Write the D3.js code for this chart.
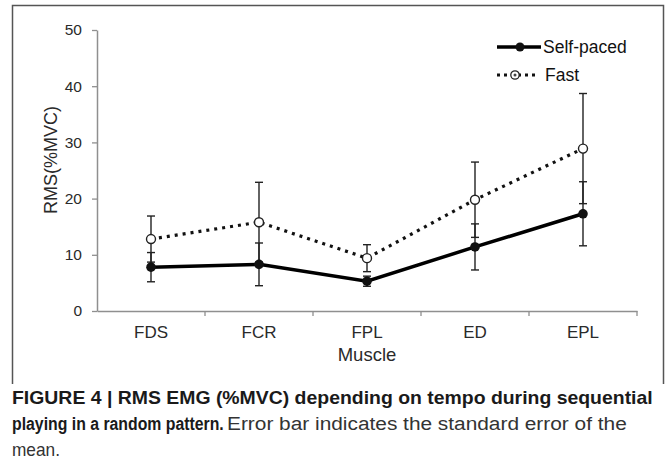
<!DOCTYPE html>
<html>
<head>
<meta charset="utf-8">
<script src="https://cdn.jsdelivr.net/npm/d3@7/dist/d3.min.js"></script>
<style>
  html, body { margin: 0; padding: 0; background: #fff; }
  svg { display: block; font-family: "Liberation Sans", Arial, sans-serif; }
</style>
</head>
<body>
<svg id="chart" width="667" height="473"></svg>
<script>
// ---- data ----
const categories = ["FDS", "FCR", "FPL", "ED", "EPL"];
const selfPaced = [7.8, 8.3, 5.3, 11.4, 17.3];
const selfPacedSE = [2.6, 3.8, 0.9, 4.1, 5.7];
const fast = [12.8, 15.8, 9.4, 19.8, 28.9];
const fastSE = [4.1, 7.1, 2.4, 6.7, 9.8];
const yTicks = [0, 10, 20, 30, 40, 50];
const seriesNames = ["Self-paced", "Fast"];

const svg = d3.select("#chart");
svg.append("rect").attr("width", 667).attr("height", 473).attr("fill", "#fff");

// frame
svg.append("path")
  .attr("d", "M12.5,384 V5.5 H663.5 V384")
  .attr("fill", "none").attr("stroke", "#555").attr("stroke-width", 1.5);

const x = d3.scaleBand().domain(categories).range([97, 637]).padding(0);
const y = d3.scaleLinear().domain([0, 50]).range([311, 30]);
const cx = c => x(c) + x.bandwidth() / 2;

const axisColor = "#8f8f8f";
const textColor = "#2a2a2a";

// y axis
const gy = svg.append("g").attr("transform", "translate(97,0)")
  .call(d3.axisLeft(y).tickValues(yTicks).tickSize(5).tickPadding(10).tickSizeOuter(0));
gy.select(".domain").attr("stroke", axisColor).attr("stroke-width", 1.5);
gy.selectAll(".tick line").attr("stroke", axisColor).attr("stroke-width", 1.3);
gy.selectAll(".tick text").attr("fill", textColor).style("font-size", "15.5px")
  .style("font-family", "'Liberation Sans', Arial, sans-serif");

// x axis
const gx = svg.append("g").attr("transform", "translate(0,311)")
  .call(d3.axisBottom(x).tickSize(0).tickPadding(15).tickSizeOuter(0));
gx.select(".domain").attr("stroke", axisColor).attr("stroke-width", 1.5);
gx.selectAll(".tick text").attr("fill", textColor).style("font-size", "17px")
  .style("font-family", "'Liberation Sans', Arial, sans-serif");
// boundary ticks
gx.selectAll(".btick").data(categories).enter().append("line")
  .attr("class", "btick")
  .attr("x1", d => x(d) + x.bandwidth()).attr("x2", d => x(d) + x.bandwidth())
  .attr("y1", 0).attr("y2", 5)
  .attr("stroke", axisColor).attr("stroke-width", 1.3);

// axis titles
svg.append("text").attr("x", 367).attr("y", 361).attr("text-anchor", "middle")
  .attr("fill", textColor).style("font-size", "18.5px").text("Muscle");
svg.append("text").attr("transform", "translate(57,160) rotate(-90)")
  .attr("text-anchor", "middle").attr("fill", textColor).style("font-size", "18px")
  .text("RMS(%MVC)");

// error bars
function errorBars(vals, ses) {
  const g = svg.append("g").attr("stroke", "#222").attr("stroke-width", 1.4);
  categories.forEach((c, i) => {
    const xc = cx(c), lo = y(vals[i] - ses[i]), hi = y(vals[i] + ses[i]);
    g.append("line").attr("x1", xc).attr("x2", xc).attr("y1", lo).attr("y2", hi);
    g.append("line").attr("x1", xc - 4).attr("x2", xc + 4).attr("y1", lo).attr("y2", lo);
    g.append("line").attr("x1", xc - 4).attr("x2", xc + 4).attr("y1", hi).attr("y2", hi);
  });
}
errorBars(fast, fastSE);
errorBars(selfPaced, selfPacedSE);

const line = d3.line().x((d, i) => cx(categories[i])).y(d => y(d));

// fast dotted line
svg.append("path").datum(fast).attr("d", line)
  .attr("fill", "none").attr("stroke", "#111").attr("stroke-width", 3.2)
  .attr("stroke-dasharray", "3,5");
// self-paced solid line
svg.append("path").datum(selfPaced).attr("d", line)
  .attr("fill", "none").attr("stroke", "#000").attr("stroke-width", 3.5);

// markers
svg.append("g").selectAll("circle").data(fast).enter().append("circle")
  .attr("cx", (d, i) => cx(categories[i])).attr("cy", d => y(d)).attr("r", 4.5)
  .attr("fill", "#fff").attr("stroke", "#222").attr("stroke-width", 1.4);
svg.append("g").selectAll("circle").data(selfPaced).enter().append("circle")
  .attr("cx", (d, i) => cx(categories[i])).attr("cy", d => y(d)).attr("r", 4.8)
  .attr("fill", "#111");

// legend
const lg = svg.append("g");
lg.append("line").attr("x1", 497).attr("x2", 541).attr("y1", 47).attr("y2", 47)
  .attr("stroke", "#000").attr("stroke-width", 3.5);
lg.append("circle").attr("cx", 520).attr("cy", 47).attr("r", 4.5).attr("fill", "#111");
lg.append("text").attr("x", 543).attr("y", 53).attr("fill", "#111")
  .style("font-size", "17.5px").text(seriesNames[0]);
lg.append("line").attr("x1", 497).attr("x2", 539).attr("y1", 75).attr("y2", 75)
  .attr("stroke", "#111").attr("stroke-width", 3).attr("stroke-dasharray", "3,4");
lg.append("circle").attr("cx", 515).attr("cy", 75).attr("r", 4.2)
  .attr("fill", "#fff").attr("stroke", "#222").attr("stroke-width", 1.3);
lg.append("circle").attr("cx", 515).attr("cy", 75).attr("r", 1.5).attr("fill", "#444");
lg.append("text").attr("x", 545).attr("y", 81).attr("fill", "#111")
  .style("font-size", "17.5px").text(seriesNames[1]);

// caption: each piece is scaled horizontally to span its measured width
const cap = svg.append("g").attr("fill", "#1a1a1a").style("font-size", "19px");
function fitText(txt, x0, y0, w, bold, fill) {
  const t = cap.append("text").attr("x", 0).attr("y", 0)
    .style("font-weight", bold ? "bold" : "normal").attr("fill", fill).text(txt);
  const nat = t.node().getComputedTextLength();
  t.attr("transform", `translate(${x0},${y0}) scale(${w / nat},1)`);
}
fitText("FIGURE 4 | RMS EMG (%MVC) depending on tempo during sequential", 12, 404, 641, true, "#1a1a1a");
fitText("playing in a random pattern.", 12, 430, 212, true, "#1a1a1a");
fitText("Error bar indicates the standard error of the", 227, 430, 400, false, "#333");
fitText("mean.", 12, 456, 48, false, "#333");
</script>
</body>
</html>
